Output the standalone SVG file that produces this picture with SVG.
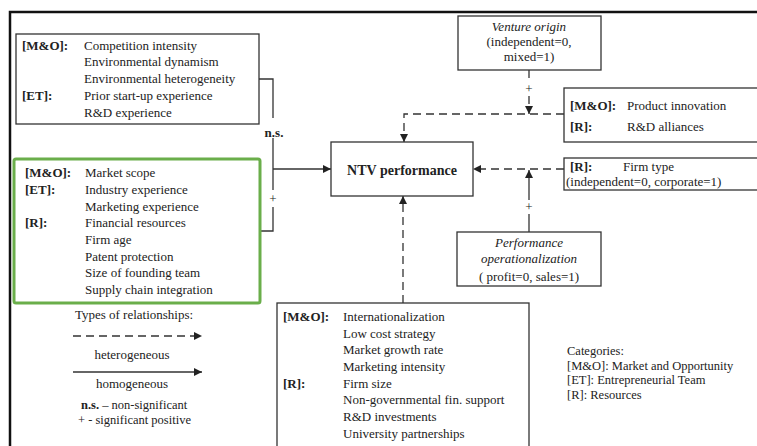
<svg xmlns="http://www.w3.org/2000/svg" width="757" height="446" viewBox="0 0 757 446">
  <defs>
    <style>
      text { font-family: "Liberation Serif", "Times New Roman", serif; font-size: 13px; fill: #222; }
      .b { font-weight: bold; }
      .i { font-style: italic; }
      .c { text-anchor: middle; }
      .sm { font-size: 12.5px; }
      .box { fill: #fff; stroke: #333; stroke-width: 1.3; }
      .green { fill: #fff; stroke: #6aae4a; stroke-width: 3; }
      .solid { fill: none; stroke: #333; stroke-width: 1.3; }
      .dash { fill: none; stroke: #333; stroke-width: 1.3; stroke-dasharray: 8 5; }
    </style>
    <marker id="arr" viewBox="0 0 10 10" refX="10" refY="5" markerWidth="9" markerHeight="8" markerUnits="userSpaceOnUse" orient="auto">
      <path d="M0,0 L10,5 L0,10 z" fill="#222"/>
    </marker>
  </defs>

  <rect width="757" height="446" fill="#fff"/>
  <!-- outer frame (top and left edges) -->
  <path d="M10,446 V12 H757" fill="none" stroke="#111" stroke-width="2.5"/>

  <g id="connectors">
    <!-- homogeneous links into NTV performance -->
    <path class="solid" d="M259,79 H273 V118"/>
    <path class="solid" d="M273,138 V190"/>
    <path class="solid" d="M273,207 V231 H260"/>
    <path class="solid" d="M273,169 H331" marker-end="url(#arr)"/>
    <!-- top: venture origin and product innovation -->
    <path class="dash" d="M529,70 V82"/>
    <path class="dash" d="M529,96 V114" marker-end="url(#arr)"/>
    <path class="dash" d="M564,114 H404 V142" marker-end="url(#arr)"/>
    <!-- right: firm type -->
    <path class="dash" d="M564,169 H473" marker-end="url(#arr)"/>
    <!-- performance operationalization -->
    <path class="solid" d="M529,232 V214"/>
    <path class="solid" d="M529,200 V170" marker-end="url(#arr)"/>
    <!-- bottom box -->
    <path class="dash" d="M403,303 V196" marker-end="url(#arr)"/>
    <!-- relationship labels -->
    <text class="b c" x="274" y="137">n.s.</text>
    <text class="c" x="273" y="203">+</text>
    <text class="c" x="529" y="93">+</text>
    <text class="c" x="529" y="211">+</text>
  </g>

  <g id="ntv">
    <rect class="box" x="331" y="142" width="142" height="54"/>
    <text class="b c" x="402" y="175" style="font-size:14px">NTV performance</text>
  </g>

  <g id="ns-factors">
    <rect class="box" x="16" y="34" width="243" height="90"/>
    <text class="b" x="22" y="50">[M&amp;O]:</text>
    <text x="84" y="50">Competition intensity</text>
    <text x="84" y="66">Environmental dynamism</text>
    <text x="84" y="83">Environmental heterogeneity</text>
    <text class="b" x="22" y="100">[ET]:</text>
    <text x="84" y="100">Prior start-up experience</text>
    <text x="84" y="117">R&amp;D experience</text>
  </g>

  <g id="positive-factors">
    <rect class="green" x="14" y="159" width="246" height="144" rx="2"/>
    <text class="b" x="25" y="177">[M&amp;O]:</text>
    <text x="85" y="177">Market scope</text>
    <text class="b" x="25" y="194">[ET]:</text>
    <text x="85" y="194">Industry experience</text>
    <text x="85" y="211">Marketing experience</text>
    <text class="b" x="25" y="227">[R]:</text>
    <text x="85" y="227">Financial resources</text>
    <text x="85" y="244">Firm age</text>
    <text x="85" y="261">Patent protection</text>
    <text x="85" y="277">Size of founding team</text>
    <text x="85" y="294">Supply chain integration</text>
  </g>

  <g id="venture-origin">
    <rect class="box" x="458" y="16" width="143" height="54"/>
    <text class="i c" x="529" y="31">Venture origin</text>
    <text class="c" x="529" y="46">(independent=0,</text>
    <text class="c" x="529" y="61">mixed=1)</text>
  </g>

  <g id="product-innovation">
    <rect class="box" x="564" y="88" width="200" height="54"/>
    <text class="b" x="570" y="110">[M&amp;O]:</text>
    <text x="627" y="110">Product innovation</text>
    <text class="b" x="570" y="131">[R]:</text>
    <text x="627" y="131">R&amp;D alliances</text>
  </g>

  <g id="firm-type">
    <rect class="box" x="564" y="158" width="200" height="32"/>
    <text class="b" x="570" y="171">[R]:</text>
    <text x="623" y="171">Firm type</text>
    <text x="566" y="186">(independent=0, corporate=1)</text>
  </g>

  <g id="performance-operationalization">
    <rect class="box" x="457" y="232" width="144" height="54"/>
    <text class="i c" x="529" y="247">Performance</text>
    <text class="i c" x="529" y="263">operationalization</text>
    <text class="c" x="529" y="281">( profit=0, sales=1)</text>
  </g>

  <g id="heterogeneous-factors">
    <rect class="box" x="277" y="303" width="252" height="150"/>
    <text class="b" x="283" y="321">[M&amp;O]:</text>
    <text x="343" y="321">Internationalization</text>
    <text x="343" y="338">Low cost strategy</text>
    <text x="343" y="354">Market growth rate</text>
    <text x="343" y="371">Marketing intensity</text>
    <text class="b" x="283" y="388">[R]:</text>
    <text x="343" y="388">Firm size</text>
    <text x="343" y="404">Non-governmental fin. support</text>
    <text x="343" y="421">R&amp;D investments</text>
    <text x="343" y="438">University partnerships</text>
  </g>

  <g id="legend">
    <text class="c" x="134" y="319">Types of relationships:</text>
    <path class="dash" d="M73,336 H202" marker-end="url(#arr)"/>
    <text class="c" x="132" y="359">heterogeneous</text>
    <path class="solid" d="M73,372 H202" marker-end="url(#arr)"/>
    <text class="c" x="132" y="388">homogeneous</text>
    <text class="sm" x="81" y="409"><tspan class="b">n.s.</tspan> – non-significant</text>
    <text class="sm" x="78" y="423.5">+ - significant positive</text>
  </g>

  <g id="categories">
    <text class="sm" x="567" y="355">Categories:</text>
    <text class="sm" x="567" y="369.5">[M&amp;O]: Market and Opportunity</text>
    <text class="sm" x="567" y="384">[ET]: Entrepreneurial Team</text>
    <text class="sm" x="567" y="398.5">[R]: Resources</text>
  </g>
</svg>
